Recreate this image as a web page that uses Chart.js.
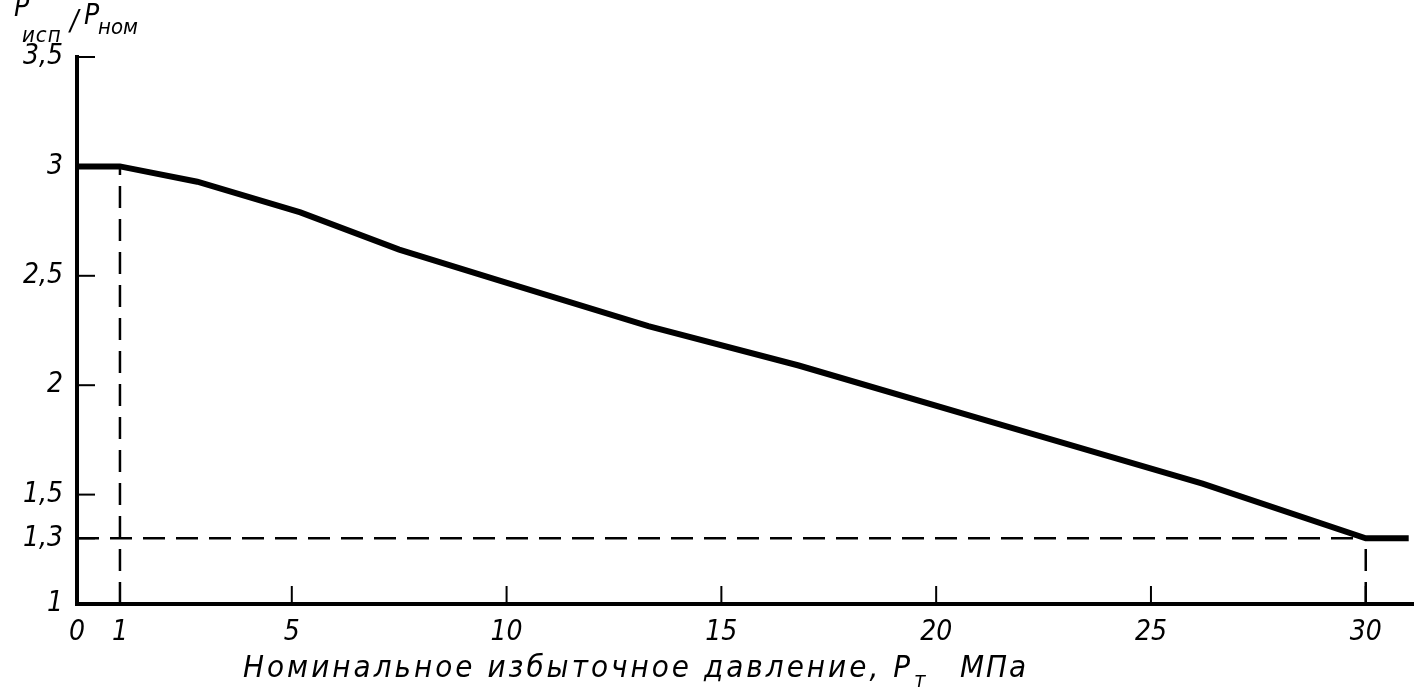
<!DOCTYPE html>
<html>
<head>
<meta charset="utf-8">
<script src="https://cdn.jsdelivr.net/npm/chart.js@4.4.1/dist/chart.umd.min.js"></script>
<style>
  body { margin: 0; background: #fff; }
  #wrap { width: 1418px; height: 691px; }
</style>
</head>
<body>
<div id="wrap"><canvas id="myChart" width="1418" height="691"></canvas></div>
<script>
// values
const pressure = [0, 1, 2.8, 5.2, 7.5, 9.8, 13.3, 16.8, 21.5, 26.2, 30, 31];
const ratio = [3, 3, 2.93, 2.79, 2.62, 2.48, 2.27, 2.09, 1.82, 1.55, 1.3, 1.3];

const xTicks = [0, 1, 5, 10, 15, 20, 25, 30];
const yTicks = [1, 1.3, 1.5, 2, 2.5, 3, 3.5];

// dashed guide lines
const guideAtOneX = [1, 1];
const guideAtOneY = [1, 3];
const guideLevelX = [0, 30];
const guideLevelY = [1.3, 1.3];
const guideAtThirtyX = [30, 30];
const guideAtThirtyY = [1, 1.3];

const family = "'Liberation Sans Narrow', 'DejaVu Sans Condensed', 'DejaVu Sans', sans-serif";
const titleFont = "italic 28px " + family;
const xTitleFont = "italic 31px " + family;
const subFont = "italic 22px " + family;

function toPoints(xs, ys) {
    let pts = [];
    for (let i = 0; i < xs.length; i += 1) {
        pts.push({ x: xs[i], y: ys[i] });
    }
    return pts;
}

function dashed(xs, ys) {
    return {
        data: toPoints(xs, ys),
        borderColor: '#000',
        borderWidth: 2.5,
        borderDash: [22, 11],
        pointRadius: 0,
        tension: 0
    };
}

const drawExtras = {
    id: 'drawExtras',
    afterDraw(chart) {
        const ctx = chart.ctx;
        const x = chart.scales.x;
        const y = chart.scales.y;
        ctx.save();
        ctx.strokeStyle = '#000';
        ctx.lineWidth = 2;
        // inward tick marks
        xTicks.forEach(function (v) {
            if (v < 5) return;
            const px = x.getPixelForValue(v);
            ctx.beginPath();
            ctx.moveTo(px, y.bottom);
            ctx.lineTo(px, y.bottom - 18);
            ctx.stroke();
        });
        yTicks.forEach(function (v) {
            if (v === 1 || v === 3) return;
            const py = y.getPixelForValue(v);
            ctx.beginPath();
            ctx.moveTo(x.left, py);
            ctx.lineTo(x.left + 18, py);
            ctx.stroke();
        });

        ctx.fillStyle = '#000';
        ctx.textBaseline = 'alphabetic';
        ctx.textAlign = 'left';

        // y title: Pисп/Pном
        ctx.font = titleFont;
        ctx.fillText('P', 14, 16);
        ctx.font = subFont;
        ctx.letterSpacing = '1px';
        ctx.fillText('исп', 22, 42);
        ctx.letterSpacing = '0px';
        ctx.font = titleFont;
        ctx.fillText('/', 70, 30);
        ctx.fillText('P', 84, 24);
        ctx.font = subFont;
        ctx.fillText('ном', 98, 34);

        // x title, spread to the width it has in the drawing
        ctx.font = xTitleFont;
        const part1 = 'Номинальное избыточное давление, P';
        const w0 = ctx.measureText(part1).width;
        const spacing = (670 - w0) / part1.length;
        ctx.letterSpacing = spacing + 'px';
        ctx.fillText(part1, 243, 677);
        ctx.font = subFont;
        ctx.letterSpacing = '0px';
        ctx.fillText('т', 243 + 670 + 1, 687);
        ctx.font = xTitleFont;
        ctx.letterSpacing = '2px';
        ctx.fillText('МПа', 960, 677);
        ctx.restore();
    }
};

const ctx = document.getElementById('myChart').getContext('2d');
const myChart = new Chart(ctx, {
    type: 'line',
    data: {
        datasets: [
            {
                data: toPoints(pressure, ratio),
                borderColor: '#000',
                borderWidth: 6,
                pointRadius: 0,
                tension: 0
            },
            dashed(guideAtOneX, guideAtOneY),
            dashed(guideLevelX, guideLevelY),
            dashed(guideAtThirtyX, guideAtThirtyY)
        ]
    },
    options: {
        responsive: false,
        animation: false,
        layout: {
            padding: { top: 57, right: 5, left: 0, bottom: 0 }
        },
        plugins: {
            legend: { display: false },
            tooltip: { enabled: false }
        },
        scales: {
            x: {
                type: 'linear',
                min: 0,
                max: 31.1,
                afterBuildTicks: function (scale) {
                    scale.ticks = xTicks.map(function (v) { return { value: v }; });
                },
                afterFit: function (scale) {
                    scale.height = 87;
                },
                grid: { display: true, drawOnChartArea: false, drawTicks: false },
                border: { color: '#000', width: 4 },
                ticks: {
                    autoSkip: false,
                    maxRotation: 0,
                    padding: 12,
                    color: '#000',
                    font: { family: family, size: 28, style: 'italic' }
                }
            },
            y: {
                min: 1,
                max: 3.5,
                afterBuildTicks: function (scale) {
                    scale.ticks = yTicks.map(function (v) { return { value: v }; });
                },
                afterFit: function (scale) {
                    scale.width = 77;
                },
                grid: { display: true, drawOnChartArea: false, drawTicks: false },
                border: { color: '#000', width: 4 },
                ticks: {
                    autoSkip: false,
                    padding: 14,
                    color: '#000',
                    font: { family: family, size: 28, style: 'italic' },
                    callback: function (v) { return String(v).replace('.', ','); }
                }
            }
        }
    },
    plugins: [drawExtras]
});
</script>
</body>
</html>
